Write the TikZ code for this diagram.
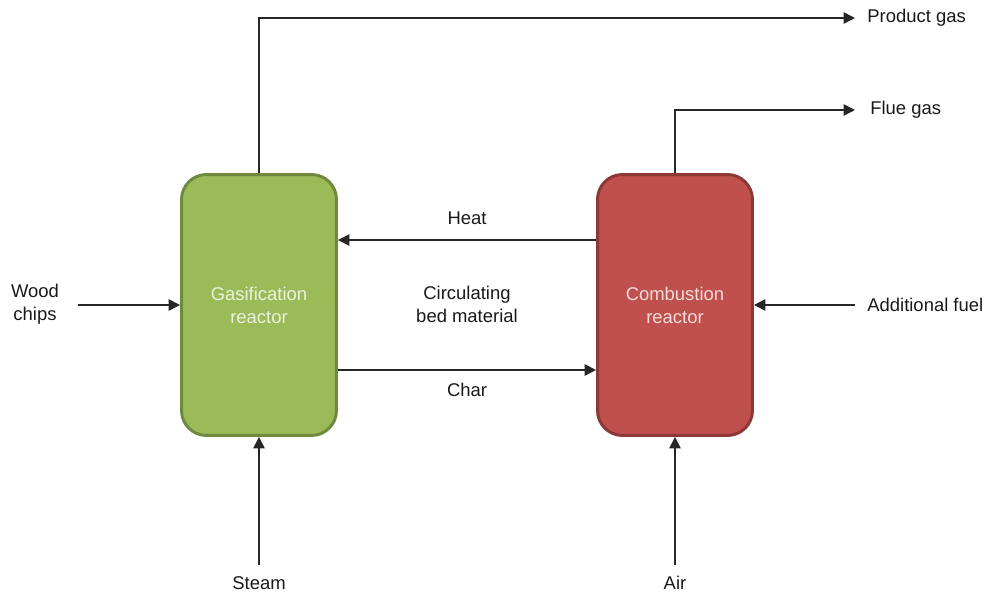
\documentclass[tikz,border=0pt]{standalone}
\usepackage{fontspec}
\setmainfont{Liberation Sans}
\usetikzlibrary{arrows.meta,positioning}

\definecolor{gasfill}{HTML}{9BBB59}
\definecolor{gasline}{HTML}{71893F}
\definecolor{gastext}{HTML}{EBF1DE}
\definecolor{combfill}{HTML}{C0504D}
\definecolor{combline}{HTML}{8C3836}
\definecolor{combtext}{HTML}{F2DCDB}

\begin{document}
\begin{tikzpicture}[x=0.02cm, y=-0.02cm, font=\fontsize{10.5}{13}\selectfont,
    reactor/.style={draw, line width=1.7pt, rounded corners=0.5cm, minimum width=3.1cm, minimum height=5.22cm, align=center},
    flow/.style={line width=0.9pt, draw=black!85, -{Triangle[length=6.5pt, width=6.5pt]}},
    lbl/.style={align=center, text=black!90, inner sep=0pt}]
    \useasboundingbox (0,0) rectangle (985,594);

    % reactors
    \node[reactor, fill=gasfill, draw=gasline, text=gastext] (gas) at (259,305) {Gasification\\reactor};
    \node[reactor, fill=combfill, draw=combline, text=combtext] (comb) at (675,305) {Combustion\\reactor};

    % free ends of the streams
    \coordinate (prodend) at (855,18);
    \coordinate (flueend) at (855,110);
    \coordinate (fuelstart) at (855,305);
    \coordinate (woodstart) at (78,305);
    \coordinate (steamstart) at (259,565);
    \coordinate (airstart) at (675,565);

    % labels
    \node[lbl, right=0.24cm of prodend] (prod) {Product gas};
    \node[lbl, right=0.3cm of flueend] (flue) {Flue gas};
    \node[lbl, right=0.24cm of fuelstart] (fuel) {Additional fuel};
    \node[lbl] (wood) at (35,304) {Wood\\chips};
    \node[lbl] (steam) at (259,583) {Steam};
    \node[lbl] (air) at (675,583) {Air};
    \node[lbl] (heat) at (467,218) {Heat};
    \node[lbl] (char) at (467,390) {Char};
    \node[lbl] (bed) at (467,304) {Circulating\\bed material};

    % streams
    \draw[flow] (gas.north) |- (prodend);
    \draw[flow] (comb.north) |- (flueend);
    \draw[flow] ([yshift=1.3cm]comb.west) -- ([yshift=1.3cm]gas.east);
    \draw[flow] ([yshift=-1.3cm]gas.east) -- ([yshift=-1.3cm]comb.west);
    \draw[flow] (woodstart) -- (gas.west);
    \draw[flow] (fuelstart) -- (comb.east);
    \draw[flow] (steamstart) -- (gas.south);
    \draw[flow] (airstart) -- (comb.south);
\end{tikzpicture}
\end{document}
